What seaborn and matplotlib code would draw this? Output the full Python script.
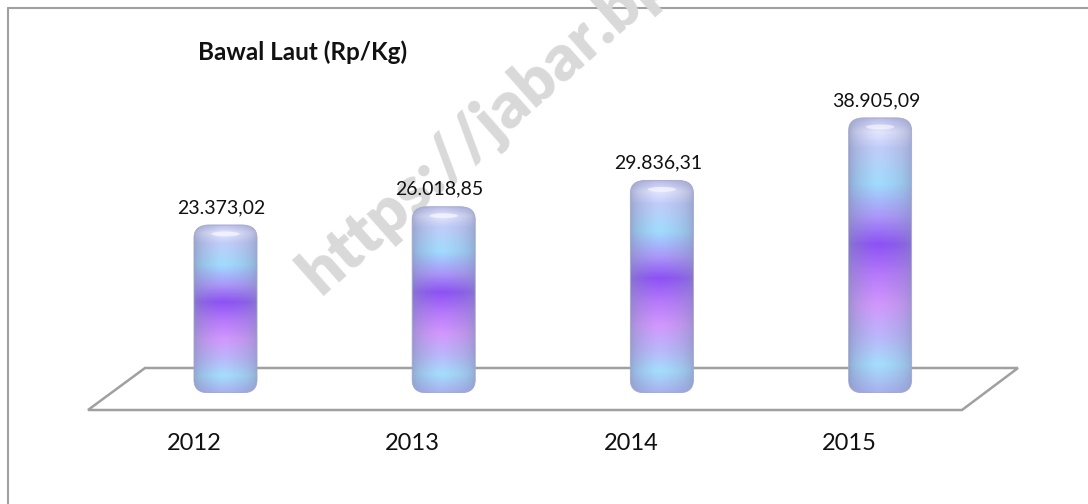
import numpy as np
import pandas as pd
import matplotlib
matplotlib.use("Agg")
import matplotlib.pyplot as plt
import seaborn as sns
from matplotlib.path import Path
from matplotlib.patches import PathPatch, Polygon, Ellipse
from matplotlib.lines import Line2D
from matplotlib.colors import LinearSegmentedColormap

# data
tahun = ["2012", "2013", "2014", "2015"]
harga = [23373.02, 26018.85, 29836.31, 38905.09]
judul = "Bawal Laut (Rp/Kg)"
watermark = "https://jabar.bps.go.id"

sns.set_theme(style="white")
plt.rcParams["font.family"] = ["Lato", "DejaVu Sans"]

W, H = 1088, 504
fig = plt.figure(figsize=(W / 100, H / 100), dpi=100)
fig.patch.set_facecolor("white")

# plot area in pixels (left, bottom, right, top measured from top of image)
left, right, top, bottom = 116.4, 989.2, 60, 393
ax = fig.add_axes([left / W, 1 - bottom / H, (right - left) / W, (bottom - top) / H])

df = pd.DataFrame({"tahun": tahun, "harga": harga})
sns.barplot(data=df, x="tahun", y="harga", ax=ax, width=0.289, color="#a8a8f0",
            saturation=1, errorbar=None)
ax.set_xlim(-0.5, 3.5)
ax.set_ylim(-1000, 47300)
ax.axis("off")

ylo, yhi = ax.get_ylim()
px = (yhi - ylo) / (bottom - top)  # data units per pixel

# gradient used for every cylinder (top -> bottom)
grad = LinearSegmentedColormap.from_list("tabung", [
    (0.00, "#b4b8e4"),
    (0.05, "#dcdff8"),
    (0.11, "#bcc8f4"),
    (0.24, "#9ed6f8"),
    (0.36, "#a896f4"),
    (0.46, "#8c56f0"),
    (0.57, "#b27af6"),
    (0.68, "#cc96f8"),
    (0.80, "#b6b4f6"),
    (0.90, "#a2d8f8"),
    (1.00, "#a6aeea"),
])
edge = np.array([0.52, 0.55, 0.72])


def rounded_path(x0, y0, w, h, rx, ry):
    x1, y1 = x0 + w, y0 + h
    verts = [(x0 + rx, y0), (x1 - rx, y0), (x1, y0), (x1, y0 + ry),
             (x1, y1 - ry), (x1, y1), (x1 - rx, y1),
             (x0 + rx, y1), (x0, y1), (x0, y1 - ry),
             (x0, y0 + ry), (x0, y0), (x0 + rx, y0), (x0 + rx, y0)]
    codes = [Path.MOVETO, Path.LINETO, Path.CURVE3, Path.CURVE3,
             Path.LINETO, Path.CURVE3, Path.CURVE3,
             Path.LINETO, Path.CURVE3, Path.CURVE3,
             Path.LINETO, Path.CURVE3, Path.CURVE3, Path.CLOSEPOLY]
    return Path(verts, codes)


# floor of the 3d chart
floor = Polygon([(88 / W, 1 - 410 / H), (962 / W, 1 - 410 / H),
                 (1018 / W, 1 - 368 / H), (145 / W, 1 - 368 / H)],
                closed=True, transform=fig.transFigure, facecolor="none",
                edgecolor="#a0a0a0", lw=1.8, clip_on=False, zorder=1)
ax.add_patch(floor)

rows = np.linspace(0, 1, 300)
cols = np.linspace(0, 1, 80)
for i, bar in enumerate(list(ax.patches)):
    if bar is floor:
        continue
    x0, w, h = bar.get_x(), bar.get_width(), bar.get_height()
    bar.set_visible(False)
    base = grad(rows)[:, :3]
    f = (1 - np.sin(np.pi * cols) ** 0.6) * 0.65
    f = f - 0.08 * np.exp(-((cols - 0.45) / 0.15) ** 2)
    f = np.clip(f, -0.1, 1)
    img = base[:, None, :] * (1 - f[None, :, None]) + edge * f[None, :, None]
    img = np.clip(img, 0, 1)
    path = rounded_path(x0, ylo, w, h - ylo, w * 0.24, 13 * px)
    pp = PathPatch(path, facecolor="none", edgecolor="#a4a8cc", lw=0.6, zorder=4)
    ax.add_patch(pp)
    im = ax.imshow(img, extent=(x0, x0 + w, ylo, h), aspect="auto", zorder=3,
                   interpolation="bilinear")
    im.set_clip_path(pp)
    # highlight on the top cap
    ax.add_patch(Ellipse((x0 + w * 0.5, h - 9 * px), w * 0.45, 5 * px,
                         facecolor="white", alpha=0.55, lw=0, zorder=5))

    teks = f"{harga[i]:,.2f}".replace(",", "X").replace(".", ",").replace("X", ".")
    ax.annotate(teks, xy=(i, h), xytext=(-4, 9), textcoords="offset pixels",
                ha="center", va="bottom", fontsize=14, color="#111111",
                annotation_clip=False, zorder=6)
    ax.annotate(tahun[i], xy=(i, ylo), xytext=(-31, -51), textcoords="offset pixels",
                ha="center", va="center", fontsize=17, color="#111111",
                annotation_clip=False, zorder=6)

ax.set_xlim(-0.5, 3.5)
ax.set_ylim(ylo, yhi)

fig.text(198 / W, 1 - 60 / H, judul, ha="left", va="baseline", fontsize=17.5,
         fontweight="bold", color="#111111")

# border (only top and left visible in the crop)
fig.add_artist(Line2D([8 / W, 1], [1 - 8 / H, 1 - 8 / H], color="#a0a0a0", lw=1.5,
                      zorder=-3))
fig.add_artist(Line2D([8 / W, 8 / W], [0, 1 - 8 / H], color="#a0a0a0", lw=1.5,
                      zorder=-3))

# watermark sits behind the chart texts
fig.text(320 / W, 1 - 296 / H, watermark, rotation=41.5, rotation_mode="anchor",
         ha="left", va="baseline", fontsize=47, fontweight="heavy",
         color="#d9d9d9", zorder=-1)

fig.savefig("out.png", dpi=100)
